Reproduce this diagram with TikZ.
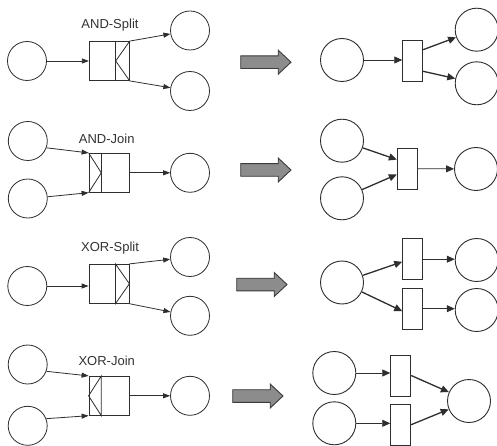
\documentclass[tikz,border=0pt]{standalone}
\usepackage{fontspec}
\setmainfont{Liberation Sans}
\usetikzlibrary{arrows.meta}
\definecolor{ink}{HTML}{2E2E2E}
\definecolor{labelgray}{HTML}{333333}
\definecolor{arrowfill}{HTML}{8C8C8C}
\definecolor{arrowedge}{HTML}{3A3A3A}
\begin{document}
\begin{tikzpicture}[x=1pt,y=-1pt,
  place/.style={circle,draw=ink,line width=0.8pt,minimum size=39pt,inner sep=0pt},
  bigplace/.style={circle,draw=ink,line width=0.9pt,minimum size=43pt,inner sep=0pt},
  gate/.style={rectangle,draw=ink,line width=0.8pt,minimum width=40pt,minimum height=39pt,inner sep=0pt},
  trans/.style={rectangle,draw=ink,line width=0.9pt,minimum width=20pt,minimum height=41pt,inner sep=0pt},
  flow/.style={draw=ink,line width=0.8pt,-{Triangle[length=7pt,width=5pt]}},
  netflow/.style={draw=ink,line width=0.8pt,-{Triangle[length=8pt,width=7pt]}},
  boldflow/.style={draw=ink,line width=1.3pt,-{Triangle[length=8pt,width=7pt]}},
  gatemark/.style={draw=ink,line width=0.8pt},
  gatelabel/.style={font=\fontsize{13pt}{13pt}\selectfont,text=labelgray,anchor=base,inner sep=0pt},
  bigarrow/.pic={\draw[fill=arrowfill,draw=arrowedge,line width=0.9pt]
    (0,-6.3) -- (37.5,-6.3) -- (37.5,-12) -- (50.3,0) -- (37.5,12) -- (37.5,6.3) -- (0,6.3) -- cycle;}]
\useasboundingbox[fill=white] (0,0) rectangle (497,446);

% ---------------- AND-Split ----------------
\node[place] (p1a) at (27,61) {};
\node[gate] (t1) at (109.3,61) {};
\node[place] (p1b) at (190,30.5) {};
\node[place] (p1c) at (190,91) {};
\node[gatelabel] (l1) at (110,28.7) {AND-Split};
\draw[gatemark] ([xshift=-14pt]t1.north east) -- ([xshift=-14pt]t1.south east);
\draw[gatemark] (t1.north east) -- ([xshift=-14pt]t1.east) -- (t1.south east);
\draw[flow] (p1a) -- (p1a -| t1.west);
\draw[flow] (t1.north east) -- (p1b);
\draw[flow] (t1.south east) -- (p1c);

\pic at (240.7,62.2) {bigarrow};

\node[bigplace] (r1a) at (342,60) {};
\node[trans] (T1) at (412.7,60.5) {};
\node[bigplace] (r1b) at (476.7,29.7) {};
\node[bigplace] (r1c) at (476.7,83.3) {};
\draw[netflow] (r1a) -- (r1a -| T1.west);
\draw[boldflow] (T1.46) -- (r1b);
\draw[boldflow] (T1.-46) -- (r1c);

% ---------------- AND-Join ----------------
\node[place] (p2a) at (27.8,141) {};
\node[place] (p2b) at (27.8,198.5) {};
\node[gate] (t2) at (109,172.8) {};
\node[place] (p2c) at (190,172.8) {};
\node[gatelabel] (l2) at (106.7,143.5) {AND-Join};
\draw[gatemark] ([xshift=12.7pt]t2.north west) -- ([xshift=12.7pt]t2.south west);
\draw[gatemark] (t2.north west) -- ([xshift=12.7pt]t2.west) -- (t2.south west);
\draw[flow] (p2a.-20) -- (t2.north west);
\draw[flow] (p2b.5) -- (t2.south west);
\draw[flow] (t2.east) -- (p2c);

\pic at (240.7,170) {bigarrow};

\node[bigplace] (r2a) at (342,140.7) {};
\node[bigplace] (r2b) at (342,198.3) {};
\node[trans] (T2) at (407.3,168.7) {};
\node[bigplace] (r2c) at (476,169) {};
\draw[boldflow] (r2a) -- (T2.139);
\draw[boldflow] (r2b) -- (T2.-151);
\draw[netflow] (T2.east) -- (r2c);

% ---------------- XOR-Split ----------------
\node[place] (p3a) at (27.3,286) {};
\node[gate] (t3) at (109,283.8) {};
\node[place] (p3b) at (190,257) {};
\node[place] (p3c) at (190,315.8) {};
\node[gatelabel] (l3) at (110,251.5) {XOR-Split};
\draw[gatemark] ([xshift=-14pt]t3.north east) -- ([xshift=-14pt]t3.south east) -- (t3.east) -- cycle;
\draw[flow] (p3a) -- (p3a -| t3.west);
\draw[flow] (t3.north east) -- (p3b);
\draw[flow] (t3.south east) -- (p3c);

\pic at (236.7,284.5) {bigarrow};

\node[bigplace] (r3a) at (342,282.5) {};
\node[trans] (T3a) at (412.7,259.2) {};
\node[trans] (T3b) at (412.7,308.7) {};
\node[bigplace] (r3b) at (476.7,260) {};
\node[bigplace] (r3c) at (476.7,310) {};
\draw[boldflow] (r3a) -- (T3a.-166);
\draw[boldflow] (r3a) -- (T3b.-167);
\draw[netflow] (T3a.east) -- (T3a.east -| r3b.west);
\draw[netflow] (T3b.east) -- (T3b.east -| r3c.west);

% ---------------- XOR-Join ----------------
\node[place] (p4a) at (27.7,364.5) {};
\node[place] (p4b) at (27.7,425.8) {};
\node[gate] (t4) at (109,395.8) {};
\node[place] (p4c) at (190,395.8) {};
\node[gatelabel] (l4) at (106.7,365) {XOR-Join};
\draw[gatemark] ([xshift=12.7pt]t4.north west) -- ([xshift=12.7pt]t4.south west) -- (t4.west) -- cycle;
\draw[flow] (p4a.-20) -- (t4.north west);
\draw[flow] (p4b.21) -- (t4.south west);
\draw[flow] (t4.east) -- (p4c);

\pic at (232.7,396) {bigarrow};

\node[bigplace] (r4a) at (334.3,373) {};
\node[bigplace] (r4b) at (334.3,423.3) {};
\node[trans] (T4a) at (400.7,375.5) {};
\node[trans] (T4b) at (400.7,424.7) {};
\node[bigplace] (r4c) at (469,401) {};
\draw[netflow] (r4a) -- (r4a -| T4a.west);
\draw[netflow] (r4b) -- (r4b -| T4b.west);
\draw[boldflow] (T4a.east) -- (r4c);
\draw[boldflow] (T4b.east) -- (r4c);
\end{tikzpicture}
\end{document}
